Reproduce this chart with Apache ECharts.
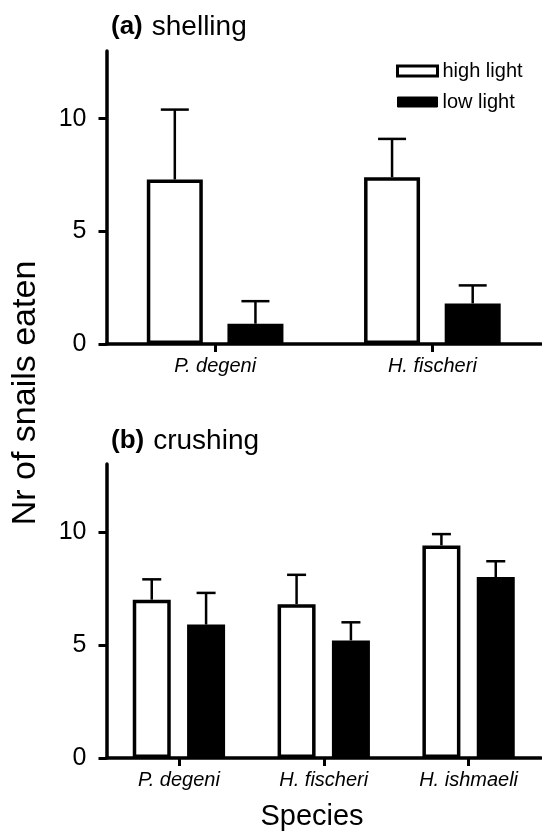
<!DOCTYPE html>
<html>
<head>
<meta charset="utf-8">
<script src="https://cdn.jsdelivr.net/npm/echarts@6/dist/echarts.min.js"></script>
<style>
html, body { margin: 0; padding: 0; background: #fff; }
#chart { width: 542px; height: 831px; }
</style>
</head>
<body>
<div id="chart"></div>
<script>
// 数据
var shellCats = ['P. degeni', 'H. fischeri'];
var shellHigh = [7.3, 7.4];
var shellHighErr = [3.1, 1.7];
var shellLow = [0.9, 1.8];
var shellLowErr = [1.0, 0.8];

var crushCats = ['P. degeni', 'H. fischeri', 'H. ishmaeli'];
var crushHigh = [7.0, 6.8, 9.4];
var crushHighErr = [0.9, 1.3, 0.5];
var crushLow = [5.9, 5.2, 8.0];
var crushLowErr = [1.4, 0.8, 0.7];

var yTicks = [0, 5, 10];

var FONT = 'Liberation Sans, Arial, sans-serif';
var A_W = 56, A_GAP = 0.44;
var B_W = 38, B_GAP = 0.43;

function errData(vals, errs) {
	return vals.map(function (v, i) { return [i, v, errs[i]]; });
}

/* 误差线 */
function errItem(offset, capW) {
	return function (params, api) {
		var x = api.coord([api.value(0), 0])[0] + offset;
		var yBar = api.coord([api.value(0), api.value(1)])[1];
		var yTop = api.coord([api.value(0), api.value(1) + api.value(2)])[1];
		var st = { stroke: '#000', lineWidth: 2.5 };
		return {
			type: 'group',
			children: [
				{ type: 'line', shape: { x1: x, y1: yBar, x2: x, y2: yTop }, style: st },
				{ type: 'line', shape: { x1: x - capW / 2, y1: yTop, x2: x + capW / 2, y2: yTop }, style: st }
			]
		};
	};
}

function yAxisOpt(idx) {
	return {
		gridIndex: idx,
		type: 'value',
		min: 0,
		max: 13,
		interval: 5,
		splitLine: { show: false },
		axisLine: { show: true, lineStyle: { color: '#000', width: 3.5 } },
		axisTick: { show: true, length: 8, customValues: yTicks, lineStyle: { color: '#000', width: 3 } },
		axisLabel: { customValues: yTicks, margin: 20, color: '#000', fontSize: 25, fontFamily: FONT }
	};
}

function xAxisOpt(idx, cats) {
	return {
		gridIndex: idx,
		type: 'category',
		data: cats,
		axisLine: { show: true, lineStyle: { color: '#000', width: 3.5 } },
		axisTick: { show: true, length: 8, alignWithLabel: true, lineStyle: { color: '#000', width: 3 } },
		axisLabel: { margin: 12, color: '#000', fontSize: 20, fontStyle: 'italic', fontFamily: FONT }
	};
}

function titleRich() {
	return {
		fontWeight: 'normal',
		rich: {
			b: { fontSize: 26, fontWeight: 'bold', color: '#000', fontFamily: FONT },
			n: { fontSize: 28, fontWeight: 'normal', color: '#000', fontFamily: FONT, padding: [0, 0, 0, 4] }
		}
	};
}

var highStyle = { color: '#fff', borderColor: '#000', borderWidth: 3.5 };
var lowStyle = { color: '#000', borderColor: '#000', borderWidth: 3.5 };

var myChart = echarts.init(document.getElementById('chart'));
var option = {
	animation: false,
	backgroundColor: '#fff',
	textStyle: { fontFamily: FONT },
	title: [
		{ text: '{b|(a)} {n|shelling}', left: 106, top: 8, textStyle: titleRich() },
		{ text: '{b|(b)} {n|crushing}', left: 106, top: 422, textStyle: titleRich() }
	],
	legend: {
		orient: 'vertical',
		left: 391, top: 56,
		itemWidth: 40, itemHeight: 10,
		itemGap: 11,
		textStyle: { fontSize: 20, color: '#000', fontFamily: FONT },
		data: [
			{ name: 'high light', icon: 'rect', itemStyle: { color: '#fff', borderColor: '#000', borderWidth: 3 } },
			{ name: 'low light', icon: 'rect', itemStyle: { color: '#000', borderColor: '#000', borderWidth: 1 } }
		]
	},
	grid: [
		{ left: 106.5, right: 1, top: 51, height: 293 },
		{ left: 106.5, right: 1, top: 464, height: 294 }
	],
	xAxis: [xAxisOpt(0, shellCats), xAxisOpt(1, crushCats)],
	yAxis: [yAxisOpt(0), yAxisOpt(1)],
	graphic: [
		{
			type: 'text', x: 26, y: 393, rotation: Math.PI / 2,
			style: { text: 'Nr of snails eaten', font: '34px ' + FONT, fill: '#000', textAlign: 'center', textVerticalAlign: 'middle' }
		},
		{
			type: 'text', x: 312, y: 817,
			style: { text: 'Species', font: '29px ' + FONT, fill: '#000', textAlign: 'center', textVerticalAlign: 'middle' }
		}
	],
	series: [
		{ name: 'high light', type: 'bar', xAxisIndex: 0, yAxisIndex: 0, barWidth: A_W, barGap: (A_GAP * 100) + '%', data: shellHigh, itemStyle: highStyle, z: 3 },
		{ name: 'low light', type: 'bar', xAxisIndex: 0, yAxisIndex: 0, barWidth: A_W, barGap: (A_GAP * 100) + '%', data: shellLow, itemStyle: lowStyle, z: 3 },
		{ name: 'high light', type: 'bar', xAxisIndex: 1, yAxisIndex: 1, barWidth: B_W, barGap: (B_GAP * 100) + '%', data: crushHigh, itemStyle: highStyle, z: 3 },
		{ name: 'low light', type: 'bar', xAxisIndex: 1, yAxisIndex: 1, barWidth: B_W, barGap: (B_GAP * 100) + '%', data: crushLow, itemStyle: lowStyle, z: 3 },
		{ type: 'custom', xAxisIndex: 0, yAxisIndex: 0, renderItem: errItem(-A_W * (1 + A_GAP) / 2, 28), data: errData(shellHigh, shellHighErr), encode: { x: 0, y: 1 }, z: 2 },
		{ type: 'custom', xAxisIndex: 0, yAxisIndex: 0, renderItem: errItem(A_W * (1 + A_GAP) / 2, 28), data: errData(shellLow, shellLowErr), encode: { x: 0, y: 1 }, z: 2 },
		{ type: 'custom', xAxisIndex: 1, yAxisIndex: 1, renderItem: errItem(-B_W * (1 + B_GAP) / 2, 19), data: errData(crushHigh, crushHighErr), encode: { x: 0, y: 1 }, z: 2 },
		{ type: 'custom', xAxisIndex: 1, yAxisIndex: 1, renderItem: errItem(B_W * (1 + B_GAP) / 2, 19), data: errData(crushLow, crushLowErr), encode: { x: 0, y: 1 }, z: 2 }
	]
};
myChart.setOption(option);
</script>
</body>
</html>
